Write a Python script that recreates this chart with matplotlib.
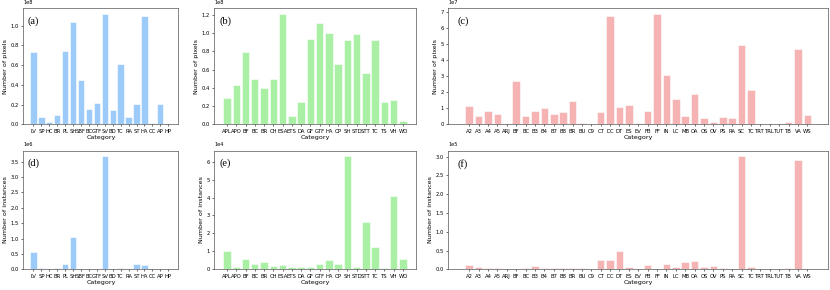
import matplotlib
matplotlib.use("Agg")
import matplotlib.pyplot as plt
import numpy as np


# DOTA categories (panels a, d)
dota_cats = ["LV", "SP", "HC", "BR", "PL", "SH", "SBF", "BC", "GTF", "SV",
             "BD", "TC", "RA", "ST", "HA", "CC", "AP", "HP"]
dota_pixels = [0.73, 0.08, 0.025, 0.10, 0.745, 1.04, 0.45, 0.16, 0.22, 1.12,
               0.15, 0.615, 0.08, 0.21, 1.10, 0.01, 0.21, 0.002]  # x1e8
dota_instances = [0.565, 0.05, 0.003, 0.05, 0.18, 1.065, 0.005, 0.005, 0.006, 3.68,
                  0.01, 0.06, 0.01, 0.17, 0.15, 0.01, 0.005, 0.002]  # x1e6

# DIOR categories (panels b, e)
dior_cats = ["APL", "APO", "BF", "BC", "BR", "CH", "ESA", "ETS", "DA", "GF",
             "GTF", "HA", "OP", "SH", "STD", "STT", "TC", "TS", "VH", "WO"]
dior_pixels = [0.29, 0.43, 0.79, 0.495, 0.40, 0.495, 1.21, 0.095, 0.25, 0.94,
               1.115, 1.00, 0.66, 0.925, 0.995, 0.565, 0.925, 0.245, 0.265, 0.035]  # x1e8
dior_instances = [1.05, 0.13, 0.58, 0.32, 0.39, 0.17, 0.22, 0.13, 0.11, 0.11,
                  0.30, 0.52, 0.30, 6.3, 0.11, 2.64, 1.22, 0.09, 4.1, 0.56]  # x1e4

# FAIR1M categories (panels c, f)
fair_cats = ["A2", "A3", "A4", "A5", "ARJ", "BF", "BC", "B3", "B4", "B7",
             "B8", "BR", "BU", "C9", "CT", "DC", "DT", "ES", "EV", "FB",
             "FF", "IN", "LC", "MB", "OA", "OS", "OV", "PS", "RA", "SC",
             "TC", "TRT", "TRL", "TUT", "TB", "VA", "WS"]
fair_pixels = [1.16, 0.55, 0.81, 0.65, 0.01, 2.72, 0.55, 0.83, 1.03, 0.65,
               0.75, 1.48, 0.08, 0.01, 0.79, 6.77, 1.10, 1.22, 0.06, 0.81,
               6.90, 3.06, 1.58, 0.53, 1.93, 0.37, 0.18, 0.47, 0.43, 4.95,
               2.13, 0.01, 0.05, 0.03, 0.16, 4.69, 0.57]  # x1e7
fair_instances = [0.12, 0.06, 0.035, 0.03, 0.005, 0.02, 0.025, 0.08, 0.035, 0.035,
                  0.03, 0.03, 0.03, 0.002, 0.24, 0.24, 0.49, 0.055, 0.01, 0.125,
                  0.01, 0.14, 0.055, 0.21, 0.22, 0.055, 0.08, 0.03, 0.01, 3.01,
                  0.055, 0.005, 0.01, 0.01, 0.03, 2.91, 0.005]  # x1e5

BLUE = "#9ccbf9"
GREEN = "#aaf0a4"
PINK = "#f5b3b3"


def draw_panel(ax, cats, values, scale, color, ylabel, tag):
    ax.bar(cats, np.array(values) * scale, width=0.8, color=color,
           edgecolor="white", linewidth=0.4)
    ax.ticklabel_format(axis="y", style="sci", scilimits=(0, 0))
    ax.yaxis.get_offset_text().set_fontsize(3.6)
    ax.tick_params(axis="both", labelsize=3.8, length=1.5, width=0.4, pad=1.5)
    ax.set_xlabel("Category", fontsize=4.6, labelpad=1)
    ax.set_ylabel(ylabel, fontsize=4.6, labelpad=2)
    for sp in ax.spines.values():
        sp.set_color("#555555")
        sp.set_linewidth(0.5)
    ax.text(0.025, 0.93, tag, transform=ax.transAxes, fontsize=7.5,
            family="Liberation Serif", va="top", ha="left")


def main():
    fig = plt.figure(figsize=(8.3, 2.9), dpi=100)

    cols = [(0.028, 0.187), (0.258, 0.243), (0.540, 0.458)]
    top_row = (0.571, 0.400)
    bot_row = (0.071, 0.410)

    panels = [
        (cols[0], top_row, dota_cats, dota_pixels, 1e8, BLUE, "Number of pixels", "(a)"),
        (cols[1], top_row, dior_cats, dior_pixels, 1e8, GREEN, "Number of pixels", "(b)"),
        (cols[2], top_row, fair_cats, fair_pixels, 1e7, PINK, "Number of pixels", "(c)"),
        (cols[0], bot_row, dota_cats, dota_instances, 1e6, BLUE, "Number of instances", "(d)"),
        (cols[1], bot_row, dior_cats, dior_instances, 1e4, GREEN, "Number of instances", "(e)"),
        (cols[2], bot_row, fair_cats, fair_instances, 1e5, PINK, "Number of instances", "(f)"),
    ]

    for (x0, w), (y0, h), cats, vals, scale, color, ylabel, tag in panels:
        ax = fig.add_axes([x0, y0, w, h])
        draw_panel(ax, cats, vals, scale, color, ylabel, tag)

    fig.savefig("out.png", dpi=100)


if __name__ == "__main__":
    main()
